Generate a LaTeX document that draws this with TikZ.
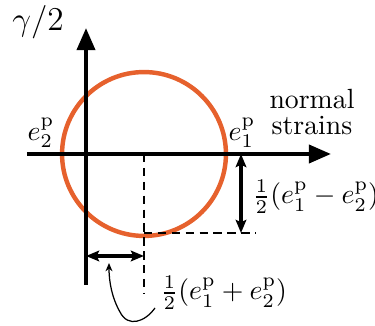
\documentclass[tikz,border=0pt]{standalone}
\usetikzlibrary{arrows.meta}
\definecolor{mohr}{RGB}{230,97,45}
\begin{document}
\begin{tikzpicture}[x=0.36pt,y=-0.36pt,
  axis/.style={line width=1.45pt,-{Triangle[length=8pt,width=6.5pt]}},
  dim/.style={line width=1.1pt,{Stealth[length=4.7pt,width=3.8pt,inset=0.8pt]}-{Stealth[length=4.7pt,width=3.8pt,inset=0.8pt]}},
  guide/.style={line width=0.9pt,dash pattern=on 3pt off 2pt},
  lbl/.style={inner sep=0pt,font=\fontsize{10}{9.4}\selectfont}]
\useasboundingbox (0,0) rectangle (375,326);
% coordinates
\coordinate (xl) at (27,154);
\coordinate (xr) at (331,154);
\coordinate (yb) at (86,285);
\coordinate (yt) at (86,28);
\coordinate (C) at (144,154);
\coordinate (Cb) at (144,233);
\coordinate (dv) at (144,293);
\coordinate (dh) at (256,233);
\coordinate (va) at (241,154);
\coordinate (vb) at (241,233);
\coordinate (ha) at (86,256);
\coordinate (hb) at (144,256);
\coordinate (ct) at (109,263);
\coordinate (cs) at (155,308);
% circle
\draw[mohr,line width=1.6pt] (C) circle[radius=29.5pt];
% axes
\draw[axis] (xl) -- (xr);
\draw[axis] (yb) -- (yt);
% guides
\draw[guide] (C) -- (dv);
\draw[guide] (Cb) -- (dh);
% dimension arrows
\draw[dim] (va) -- (vb);
\draw[dim] (ha) -- (hb);
% labels
\node[lbl,font=\fontsize{13}{13}\selectfont] (gam) at (38,22) {$\gamma/2$};
\node[lbl,align=center] (ns) at (312,112) {normal\\strains};
\node[lbl] (e2) at (41,133) {$e_2^{\mathrm{p}}$};
\node[lbl] (e1) at (242,133) {$e_1^{\mathrm{p}}$};
\node[lbl,anchor=west,font=\fontsize{9.6}{9.6}\selectfont] (dif) at (252,197) {$\frac{1}{2}(e_1^{\mathrm{p}}-e_2^{\mathrm{p}})$};
\node[lbl,anchor=west,font=\fontsize{9.6}{9.6}\selectfont] (sum) at (160,293) {$\frac{1}{2}(e_1^{\mathrm{p}}+e_2^{\mathrm{p}})$};
% curved pointer
\draw[line width=0.45pt,-{Stealth[length=3pt,width=2.5pt]}] (cs)
  .. controls (145,322) and (128,328) .. (120,312) .. controls (112,298) and (109,282) .. (ct);
\end{tikzpicture}
\end{document}
